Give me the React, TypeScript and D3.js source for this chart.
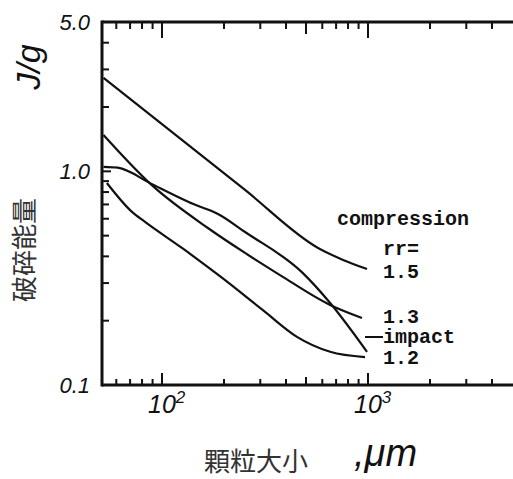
import React from "react";
import * as d3 from "d3";

const W = 513;
const H = 479;

// 破碎能量 (J/g) against 顆粒大小 (um)
const sizeRr15 = [52, 253, 572, 757, 989];
const energyRr15 = [2.74, 0.818, 0.438, 0.385, 0.349];

const sizeRr13 = [52, 89, 167, 253, 374, 655, 935];
const energyRr13 = [1.48, 0.864, 0.543, 0.415, 0.327, 0.237, 0.206];

const sizeImpact = [52, 61, 89, 145, 187, 253, 483, 655, 989];
const energyImpact = [1.05, 1.04, 0.873, 0.697, 0.632, 0.52, 0.334, 0.242, 0.143];

const sizeRr12 = [54, 71.5, 82.7, 125, 196, 309, 452, 655, 967];
const energyRr12 = [0.882, 0.646, 0.58, 0.438, 0.317, 0.224, 0.168, 0.143, 0.135];

const yTickValues = [5, 1, 0.1];
const yTickLabels = ["5.0", "1.0", "0.1"];
const yMinorTicks = [0.2, 0.3, 0.4, 0.5, 0.6, 0.7, 0.8, 0.9, 2, 3, 4];

const xMajorTicks = [100, 1000];
const xExponents = ["2", "3"];
const xMidTicks = [500];
const xMinorTicks = [60, 70, 80, 90, 200, 300, 400, 600, 700, 800, 900, 2000, 3000, 4000];

const numFont = "'Liberation Sans', Arial, sans-serif";
const monoFont = "'Liberation Mono', 'Courier New', monospace";
const cjkFont = "'Noto Sans CJK JP', 'Noto Sans CJK SC', sans-serif";

export default function App() {
  const x = d3.scaleLog().domain([100, 1000]).range([162, 368]);
  const y = d3.scaleLog().domain([0.1, 5]).range([385, 22]);

  const left = 102;
  const right = W;
  const top = y(5);
  const bottom = y(0.1);

  const line = d3
    .line<[number, number]>()
    .x((d) => x(d[0]))
    .y((d) => y(d[1]))
    .curve(d3.curveMonotoneX);

  const series = [
    d3.zip(sizeRr15, energyRr15),
    d3.zip(sizeRr13, energyRr13),
    d3.zip(sizeImpact, energyImpact),
    d3.zip(sizeRr12, energyRr12),
  ] as [number, number][][];

  const labelX = x(1000) + 15;

  return (
    <svg
      width={W}
      height={H}
      style={{ position: "absolute", left: 0, top: 0, background: "#fff" }}
    >
      {/* frame */}
      <g stroke="#111" strokeWidth={3} fill="none">
        <line x1={left} x2={left} y1={top - 1.5} y2={bottom + 1.5} />
        <line x1={left} x2={right} y1={top} y2={top} />
        <line x1={left} x2={right} y1={bottom} y2={bottom} />
      </g>

      {/* ticks */}
      <g stroke="#111" strokeWidth={2}>
        {yMinorTicks.map((v) => (
          <line key={"ym" + v} x1={left} x2={left + 7} y1={y(v)} y2={y(v)} />
        ))}
        <line x1={left} x2={left + 9} y1={y(1)} y2={y(1)} />
        {xMinorTicks.map((v) => (
          <g key={"xm" + v}>
            <line x1={x(v)} x2={x(v)} y1={top} y2={top + 7} />
            <line x1={x(v)} x2={x(v)} y1={bottom} y2={bottom - 6} />
          </g>
        ))}
        {xMidTicks.map((v) => (
          <g key={"xd" + v}>
            <line x1={x(v)} x2={x(v)} y1={top} y2={top + 12} />
            <line x1={x(v)} x2={x(v)} y1={bottom} y2={bottom - 8} />
          </g>
        ))}
        {xMajorTicks.map((v) => (
          <g key={"xM" + v}>
            <line x1={x(v)} x2={x(v)} y1={top} y2={top + 16} />
            <line x1={x(v)} x2={x(v)} y1={bottom} y2={bottom - 12} />
          </g>
        ))}
      </g>

      {/* tick labels */}
      <g fontFamily={numFont} fontStyle="italic" fontSize={22} fill="#111">
        {yTickValues.map((v, i) => (
          <text key={"yl" + v} x={90} y={y(v) + 8} textAnchor="end">
            {yTickLabels[i]}
          </text>
        ))}
      </g>
      <g fontFamily={numFont} fontStyle="italic" fontSize={25} fill="#111">
        {xMajorTicks.map((v, i) => (
          <text key={"xl" + v} x={x(v) - 14} y={bottom + 28}>
            10
            <tspan fontSize={17} dy={-10}>
              {xExponents[i]}
            </tspan>
          </text>
        ))}
      </g>

      {/* curves */}
      <g fill="none" stroke="#111" strokeWidth={2.2} strokeLinejoin="round">
        {series.map((s, i) => (
          <path key={i} d={line(s) ?? ""} />
        ))}
      </g>

      {/* curve labels */}
      <g fontFamily={monoFont} fontWeight="bold" fontSize={20} fill="#111">
        <text x={337} y={225}>compression</text>
        <text x={labelX} y={255}>rr=</text>
        <text x={labelX} y={278}>1.5</text>
        <text x={labelX} y={323}>1.3</text>
        <text x={labelX} y={343}>impact</text>
        <text x={labelX} y={364}>1.2</text>
      </g>
      <line x1={labelX - 18} x2={labelX} y1={337} y2={337} stroke="#111" strokeWidth={2} />

      {/* axis titles */}
      <text
        transform="translate(40,67) rotate(-90)"
        textAnchor="middle"
        fontFamily={numFont}
        fontStyle="italic"
        fontSize={34}
        fill="#111"
      >
        J/g
      </text>
      <text
        transform="translate(34,250) rotate(-90)"
        textAnchor="middle"
        fontFamily={cjkFont}
        fontSize={26}
        fill="#333"
      >
        破碎能量
      </text>
      <text x={256} y={471} textAnchor="middle" fontFamily={cjkFont} fontSize={26} fill="#333">
        顆粒大小
      </text>
      <text x={354} y={466} fontFamily={numFont} fontStyle="italic" fontSize={38} fill="#111">
        ,μm
      </text>
    </svg>
  );
}
